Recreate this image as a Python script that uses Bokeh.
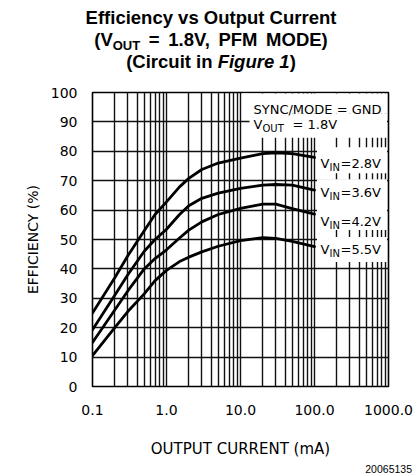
from bokeh.plotting import figure
from bokeh.layouts import column
from bokeh.models import FixedTicker, PrintfTickFormatter, Label, BoxAnnotation, Range1d, Div
from bokeh.embed import file_html
from bokeh.resources import INLINE

# ---------------- data ----------------
current_ma = [0.1, 0.2, 0.3, 0.5, 0.7, 1.0, 1.5, 2, 3, 5, 10, 20, 30, 50, 100]
eff_vin_2_8 = [25, 37, 44.5, 53, 58.5, 62.8, 67.9, 70.8, 73.8, 76, 77.7, 79.2, 79.5, 79.2, 77.9]
eff_vin_3_6 = [19.3, 31, 38, 46, 50, 53.5, 58.5, 61.5, 64, 65.8, 67.4, 68.5, 68.7, 68.5, 66.8]
eff_vin_4_2 = [15, 26, 32.5, 40, 43.5, 46.5, 50.5, 53.2, 56, 58.5, 60.6, 62, 62, 60.5, 58.6]
eff_vin_5_5 = [10.5, 20, 25.5, 31.5, 36, 39.5, 42.5, 44, 45.8, 47.7, 49.6, 50.6, 50.4, 49.4, 47.6]
series = [eff_vin_2_8, eff_vin_3_6, eff_vin_4_2, eff_vin_5_5]
vin_texts = ["=2.8V", "=3.6V", "=4.2V", "=5.5V"]

x_ticks = [0.1, 1, 10, 100, 1000]
y_ticks = [0, 10, 20, 30, 40, 50, 60, 70, 80, 90, 100]

# ---------------- layout ----------------
W = 415
TITLE_H = 80          # title strip height
FOOT_H = 14           # footer strip height
MAIN_H = 474 - TITLE_H - FOOT_H
FL, FR = 92, 388      # frame left/right px
FT, FB = 12, 307      # frame top/bottom px inside main figure

minor = [m * 10.0 ** k for k in range(-1, 3) for m in range(2, 10)]

line_css = "position:absolute;left:0;width:422px;text-align:center;white-space:nowrap;"
title_html = (
    '<div style="position:relative;width:415px;height:80px;margin:0;padding:0;'
    "font-family:'Liberation Sans',Arial,sans-serif;font-weight:bold;font-size:18.5px;"
    'color:#000;line-height:1;">'
    f'<div style="{line_css}top:9.3px;">Efficiency vs Output Current</div>'
    f'<div style="{line_css}top:31px;word-spacing:3.5px;">(V<span style="font-size:13px;'
    'position:relative;top:3.8px;">OUT</span> = 1.8V, PFM MODE)</div>'
    f'<div style="{line_css}top:52.6px;">(Circuit in <i>Figure 1</i>)</div>'
    "</div>"
)
title_div = Div(text=title_html, width=W, height=TITLE_H, margin=0)

foot_html = (
    '<div style="position:relative;width:415px;height:14px;margin:0;padding:0;'
    "font-family:'Liberation Sans',Arial,sans-serif;font-size:10.5px;color:#000;line-height:1;\">"
    '<div style="position:absolute;right:3px;top:3.8px;white-space:nowrap;">20065135</div>'
    "</div>"
)
foot_div = Div(text=foot_html, width=W, height=FOOT_H, margin=0)

# main plot
p = figure(width=W, height=MAIN_H, x_axis_type="log", output_backend="svg",
           toolbar_location=None, x_range=Range1d(0.1, 1000), y_range=Range1d(0, 100),
           min_border_left=FL, min_border_right=W - FR, min_border_top=FT,
           min_border_bottom=MAIN_H - FB)
p.background_fill_color = "white"
p.border_fill_color = "white"
p.outline_line_color = "black"
p.outline_line_width = 1.6

p.xaxis.ticker = FixedTicker(ticks=x_ticks, minor_ticks=minor)
p.xaxis.formatter = PrintfTickFormatter(format="%.1f")
p.yaxis.ticker = FixedTicker(ticks=y_ticks)

for ax in (p.xaxis[0], p.yaxis[0]):
    ax.axis_line_color = None
    ax.major_tick_line_color = None
    ax.minor_tick_line_color = None
    ax.major_label_text_font = "DejaVu Sans"
    ax.major_label_text_font_size = "14px"
    ax.major_label_text_color = "black"
    ax.axis_label_text_font = "DejaVu Sans"
    ax.axis_label_text_font_style = "normal"
    ax.axis_label_text_color = "black"

p.xaxis.axis_label = "OUTPUT CURRENT (mA)"
p.yaxis.axis_label = "EFFICIENCY (%)"
p.xaxis.axis_label_text_font_size = "15px"
p.yaxis.axis_label_text_font_size = "14px"
p.xaxis.major_label_standoff = 12
p.xaxis.axis_label_standoff = 22
p.yaxis.major_label_standoff = 9
p.yaxis.axis_label_standoff = 7

p.xgrid.grid_line_color = "#111111"
p.xgrid.grid_line_width = 1.4
p.xgrid.minor_grid_line_color = "#111111"
p.xgrid.minor_grid_line_width = 1.4
p.ygrid.grid_line_color = "#111111"
p.ygrid.grid_line_width = 1.4

for eff in series:
    p.line(current_ma, eff, line_width=2.8, line_color="black", line_join="round", line_cap="round")


def dx(px):
    return 10 ** (-1 + 4.0 * (px - FL) / (FR - FL))


def dy(py):
    # py is page pixel (from page top)
    return (FB + TITLE_H - py) * 100.0 / (FB - FT)


def box(l, r, t_, b):
    p.add_layout(BoxAnnotation(left=dx(l), right=dx(r), top=dy(t_), bottom=dy(b),
                               fill_color="white", fill_alpha=1.0, line_color=None,
                               level="glyph"))


def txt(px, py, s, size, font="DejaVu Sans", style="normal", align="left"):
    p.add_layout(Label(x=dx(px), y=dy(py), text=s, text_font=font,
                       text_font_size=f"{size}px", text_font_style=style,
                       text_align=align, text_baseline="alphabetic", text_color="black"))


# white panels behind the in-plot notes
box(241.5, 386.5, 93, 113)
box(249, 386.5, 113, 137.5)
box(316.5, 386.5, 147, 173)
box(316.5, 386.5, 179, 230)
box(316.5, 386.5, 237, 262)

# in-plot notes
txt(253, 109, "SYNC/MODE = GND", 13)
txt(253, 124, "V", 13)
txt(262, 128, "OUT", 10)
txt(292, 124, "= 1.8V", 13)
for py, s in zip([163, 192, 221, 250], vin_texts):
    txt(320, py, "V", 13)
    txt(329, py + 4, "IN", 10)
    txt(340, py, s, 13)

layout = column(title_div, p, foot_div, spacing=0)
open("out.html", "w").write(file_html(layout, INLINE))
